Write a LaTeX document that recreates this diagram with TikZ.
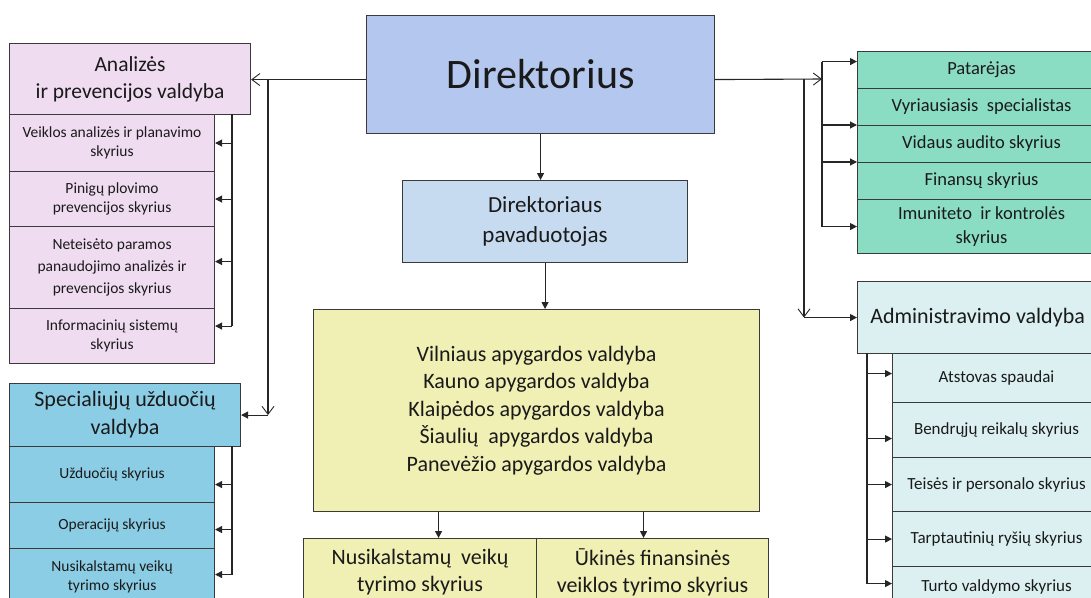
\documentclass[tikz,border=0pt]{standalone}
\usepackage{fontspec}
\setmainfont{Carlito}
\usetikzlibrary{arrows.meta}
\definecolor{cdir}{HTML}{B4C7EE}
\definecolor{cdep}{HTML}{C6DBF0}
\definecolor{cyel}{HTML}{F0F0B4}
\definecolor{cpink}{HTML}{F0DCF0}
\definecolor{cspec}{HTML}{8CCDE6}
\definecolor{cmint}{HTML}{8ADDC2}
\definecolor{cadm}{HTML}{DCF0F2}
\definecolor{cborder}{HTML}{3A3A3A}
\definecolor{ctext}{HTML}{1A1A1A}
\newcommand{\myfs}[2]{\fontsize{#1}{#2}\selectfont}
\begin{document}
\begin{tikzpicture}[x=1pt,y=-1pt,
  bx/.style={draw=cborder, line width=1.1pt, anchor=north west, align=center, inner sep=1pt, text=ctext},
  ln/.style={line width=1.1pt, draw=black!85},
  fa/.style={ln, -{Triangle[length=7pt,width=7pt]}},
  oa/.style={ln, -{Straight Barb[length=8pt,width=12pt,line width=0.9pt]}}]
\fill[white] (0,0) rectangle (1091,597);
\useasboundingbox (0,0) rectangle (1091,597);

% ---- left panel: Analizes
\node[bx, fill=cpink, minimum width=241pt, minimum height=71pt, font=\myfs{21.5}{27}] (ana) at (9,43) {Analizės\\ir prevencijos valdyba};
\node[bx, fill=cpink, minimum width=205pt, minimum height=57pt, font=\myfs{15.5}{19}] (a1) at (9,114) {Veiklos analizės ir planavimo\\skyrius};
\node[bx, fill=cpink, minimum width=205pt, minimum height=55pt, font=\myfs{15.5}{19}] (a2) at (9,171) {Pinigų plovimo\\prevencijos skyrius};
\node[bx, fill=cpink, minimum width=205pt, minimum height=82pt, font=\myfs{15.5}{22}] (a3) at (9,226) {Neteisėto paramos\\panaudojimo analizės ir\\prevencijos skyrius};
\node[bx, fill=cpink, minimum width=205pt, minimum height=55pt, font=\myfs{15.5}{19}] (a4) at (9,308) {Informacinių sistemų\\skyrius};

% ---- left panel: Specialiuju
\node[bx, fill=cspec, minimum width=231pt, minimum height=63pt, font=\myfs{22}{28}] (spec) at (9,383) {Specialiųjų užduočių\\valdyba};
\node[bx, fill=cspec, minimum width=205pt, minimum height=56pt, font=\myfs{15.5}{19}] (s1) at (9,446) {Užduočių skyrius};
\node[bx, fill=cspec, minimum width=205pt, minimum height=46pt, font=\myfs{15.5}{19}] (s2) at (9,502) {Operacijų skyrius};
\node[bx, fill=cspec, minimum width=205pt, minimum height=56pt, font=\myfs{15.5}{19}] (s3) at (9,548) {Nusikalstamų veikų\\tyrimo skyrius};

% ---- center
\node[bx, fill=cdir, minimum width=348pt, minimum height=118pt, font=\myfs{42}{50}] (dir) at (366,15) {Direktorius};
\node[bx, fill=cdep, minimum width=285pt, minimum height=82pt, font=\myfs{23}{30}] (dep) at (402,180) {Direktoriaus\\pavaduotojas};
\node[bx, fill=cyel, minimum width=446pt, minimum height=202pt, font=\myfs{22}{27.5}] (yel) at (313,309) {Vilniaus apygardos valdyba\\Kauno apygardos valdyba\\Klaipėdos apygardos valdyba\\Šiaulių \ apygardos valdyba\\Panevėžio apygardos valdyba};
\node[bx, fill=cyel, minimum width=233pt, minimum height=68pt, font=\myfs{22}{27}] (nus) at (303,538) {Nusikalstamų \ veikų\\tyrimo skyrius};
\node[bx, fill=cyel, minimum width=232pt, minimum height=68pt, font=\myfs{22}{27}] (uki) at (536,538) {Ūkinės finansinės\\veiklos tyrimo skyrius};

% ---- right top
\node[bx, fill=cmint, minimum width=248pt, minimum height=37pt, font=\myfs{18.5}{24}] (p1) at (857,51) {Patarėjas};
\node[bx, fill=cmint, minimum width=248pt, minimum height=37pt, font=\myfs{18.5}{24}] (p2) at (857,88) {Vyriausiasis \ specialistas};
\node[bx, fill=cmint, minimum width=248pt, minimum height=37pt, font=\myfs{18.5}{24}] (p3) at (857,125) {Vidaus audito skyrius};
\node[bx, fill=cmint, minimum width=248pt, minimum height=37pt, font=\myfs{18.5}{24}] (p4) at (857,162) {Finansų skyrius};
\node[bx, fill=cmint, minimum width=248pt, minimum height=54pt, font=\myfs{18.5}{24}] (p5) at (857,199) {Imuniteto \ ir kontrolės\\skyrius};

% ---- right: Administravimo
\node[bx, fill=cadm, minimum width=240pt, minimum height=72pt, font=\myfs{22}{27}] (adm) at (857,281) {Administravimo valdyba};
\node[bx, fill=cadm, minimum width=208pt, minimum height=49pt, font=\myfs{17}{21}] (m1) at (892,353) {Atstovas spaudai};
\node[bx, fill=cadm, minimum width=208pt, minimum height=55pt, font=\myfs{17}{21}] (m2) at (892,402) {Bendrųjų reikalų skyrius};
\node[bx, fill=cadm, minimum width=208pt, minimum height=54pt, font=\myfs{17}{21}] (m3) at (892,457) {Teisės ir personalo skyrius};
\node[bx, fill=cadm, minimum width=208pt, minimum height=55pt, font=\myfs{17}{21}] (m4) at (892,511) {Tarptautinių ryšių skyrius};
\node[bx, fill=cadm, minimum width=208pt, minimum height=40pt, font=\myfs{17}{21}] (m5) at (892,566) {Turto valdymo skyrius};

% ---- connectors from Direktorius
\coordinate (dl) at ([yshift=-5pt]dir.west);
\coordinate (dr) at ([yshift=-5pt]dir.east);
\draw[oa] (dl) -- (dl -| ana.east);
\coordinate (jl) at (268,79);
\draw[oa] (jl) -- (jl |- spec.east);
\draw[fa] (jl |- spec.east) -- (spec.east);

\coordinate (jr) at (822,79);
\coordinate (jv) at (804,79);
\draw[oa] (dr) -- (jr);
\draw[oa] (jv) -- (jv |- adm.west);
\draw[fa] (jv |- adm.west) -- (adm.west);

\draw[fa] (dir.south) -- (dir.south |- dep.north);
\draw[fa] (dep.south) -- (dep.south |- yel.north);
\coordinate (yn) at ([xshift=18.5pt]nus.north);
\coordinate (yu) at ([xshift=-9pt]uki.north);
\draw[fa] (yn |- yel.south) -- (yn);
\draw[fa] (yu |- yel.south) -- (yu);

% ---- left bracket (Analizes)
\coordinate (lb) at (232,114);
\coordinate (ta1) at (a1.east);
\coordinate (ta2) at (a2.east);
\coordinate (ta3) at ([yshift=6pt]a3.east);
\coordinate (ta4) at ([yshift=10pt]a4.east);
\draw[ln] (lb) -- (lb |- ta4);
\foreach \t in {ta1,ta2,ta3,ta4} \draw[fa] (lb |- \t) -- (\t);

% ---- left bracket (Specialiuju)
\coordinate (sb) at (232,446);
\coordinate (ts1) at ([yshift=-10pt]s1.east);
\coordinate (ts2) at ([yshift=-4pt]s2.east);
\coordinate (ts3) at ([yshift=2pt]s3.east);
\draw[ln] (sb) -- (sb |- ts3);
\foreach \t in {ts1,ts2,ts3} \draw[fa] (sb |- \t) -- (\t);

% ---- right top bracket
\coordinate (tp1) at ([yshift=8.5pt]p1.west);
\coordinate (tp3) at (p3.north west);
\coordinate (tp4) at (p4.north west);
\coordinate (tp5) at (p5.west);
\draw[ln] (jr |- tp1) -- (jr |- tp5);
\foreach \t in {tp1,tp3,tp4,tp5} \draw[fa] (jr |- \t) -- (\t);

% ---- admin bracket
\coordinate (mb) at (867,353);
\coordinate (tm1) at ([yshift=4.5pt]m1.west);
\coordinate (tm2) at ([yshift=-8.5pt]m2.west);
\coordinate (tm3) at (m3.west);
\coordinate (tm4) at (m4.west);
\coordinate (tm5) at ([yshift=3pt]m5.west);
\draw[ln] (mb) -- (mb |- tm5);
\foreach \t in {tm1,tm2,tm3,tm4,tm5} \draw[fa] (mb |- \t) -- (\t);
\end{tikzpicture}
\end{document}
